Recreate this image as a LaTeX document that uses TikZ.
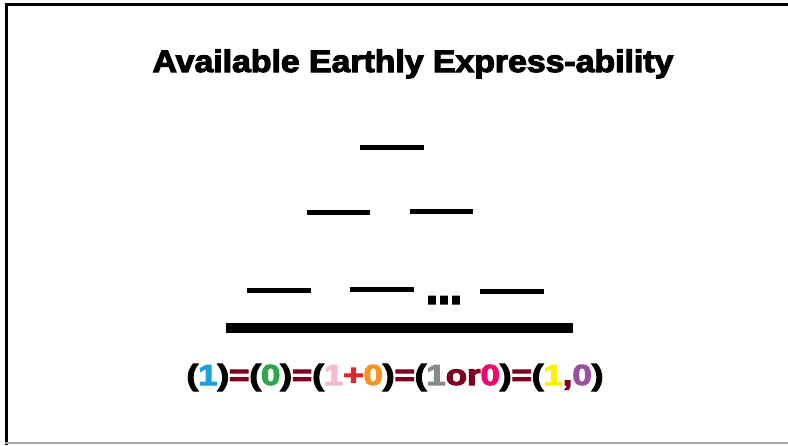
\documentclass[tikz,border=0pt]{standalone}
\usepackage{fontspec}
\newfontfamily\heavy[FakeBold=3.5]{Liberation Sans Bold}
\definecolor{cblue}{HTML}{1CA0DE}
\definecolor{cgreen}{HTML}{2DA84A}
\definecolor{cpink}{HTML}{F6B8CB}
\definecolor{cred}{HTML}{E3262E}
\definecolor{corange}{HTML}{F7941D}
\definecolor{cgray}{HTML}{8A8A8A}
\definecolor{cmaroon}{HTML}{7E0021}
\definecolor{cmagenta}{HTML}{F0086E}
\definecolor{cyellow}{HTML}{FFF200}
\definecolor{cpurple}{HTML}{9B4F9E}
\tikzset{
  bar/.style={line width=4.5pt, black},
  basebar/.style={line width=10pt, black},
  frameline/.style={line width=3pt, black},
  txt/.style={anchor=base, inner sep=0pt, outer sep=0pt}
}
\begin{document}
\begin{tikzpicture}[x=1pt,y=-1pt]
\useasboundingbox (0,0) rectangle (788,445);
% frame
\draw[frameline] (6.5,445) -- (6.5,4.8) -- (788,4.8);
\draw[gray!70, line width=1.2pt] (5,443) -- (788,443);
% title
\node[txt] (title) at (413,72) {\scalebox{1.09}[1]{\heavy\fontsize{31}{36}\selectfont Available Earthly Express-ability}};
% bars
\draw[bar] (360.3,147.3) -- (423.7,147.3);
\draw[bar] (306.7,212.7) -- (370.3,212.7);
\draw[bar] (409.7,211.7) -- (473.3,211.7);
\draw[bar] (247.3,290.3) -- (310.7,290.3);
\draw[bar] (350.3,289.3) -- (413.7,289.3);
\draw[bar] (480.0,291.7) -- (543.7,291.7);
\node[txt] (dots) at (444,303.7) {\scalebox{0.9}[1]{\heavy\fontsize{48}{54}\selectfont ...}};
\draw[basebar] (225.7,328.3) -- (573.3,328.3);
% formula
\node[txt] (formula) at (395,385) {\scalebox{1.2}[1]{\heavy\fontsize{29}{34}\selectfont
(\textcolor{cblue}{1})\textcolor{cmaroon}{=}(\textcolor{cgreen}{0})\textcolor{cmaroon}{=}(\textcolor{cpink}{1}\textcolor{cred}{+}\textcolor{corange}{0})\textcolor{cmaroon}{=}(\textcolor{cgray}{1}\textcolor{cmaroon}{or}\textcolor{cmagenta}{0})\textcolor{cmaroon}{=}(\textcolor{cyellow}{1}\textcolor{cmaroon}{,}\textcolor{cpurple}{0})}};
\end{tikzpicture}
\end{document}
